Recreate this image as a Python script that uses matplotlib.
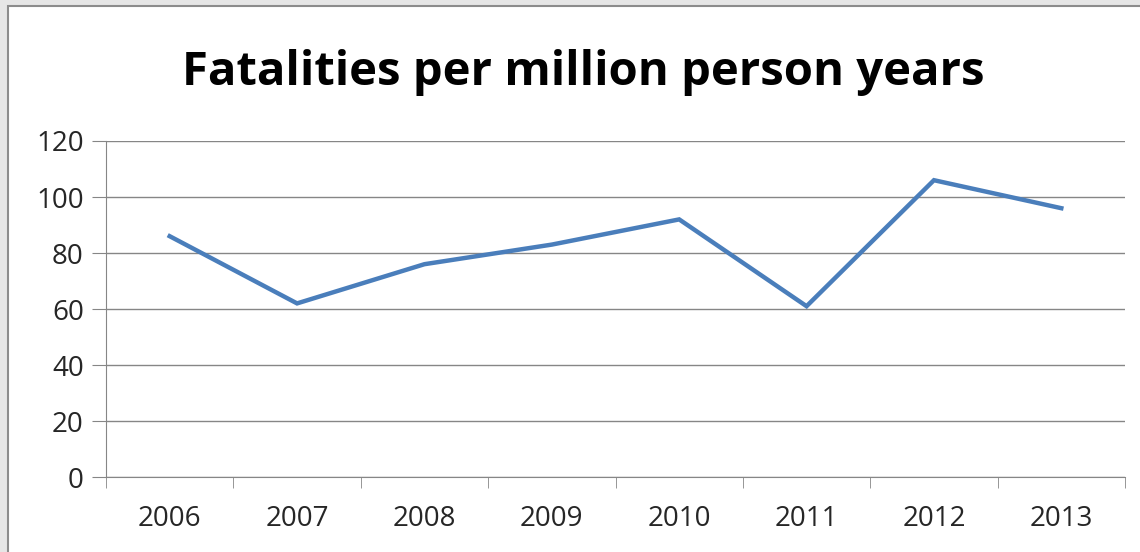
import matplotlib.pyplot as plt
import numpy as np
from matplotlib.patches import Rectangle

years = ['2006', '2007', '2008', '2009', '2010', '2011', '2012', '2013']
fatalities = [86, 62, 76, 83, 92, 61, 106, 96]
y_ticks = [0, 20, 40, 60, 80, 100, 120]

plt.rcParams['font.family'] = ['Open Sans', 'DejaVu Sans']

fig = plt.figure(figsize=(11.4, 5.52), dpi=100, facecolor='#e6e6e6')
# white chart box with a grey edge, running off the right and bottom
box = Rectangle((8 / 1140, -0.1), 1.1, 1.1 - 6 / 552,
                transform=fig.transFigure, facecolor='white',
                edgecolor='#8c8c8c', linewidth=1.5, zorder=-5)
fig.add_artist(box)

ax = fig.add_axes([106 / 1140, 75 / 552, (1125 - 106) / 1140, 336 / 552])
ax.set_facecolor('white')

x = np.arange(len(years))
ax.plot(x, fatalities, color='#4a7ebb', linewidth=3.2, solid_joinstyle='miter')

ax.set_xlim(-0.5, len(years) - 0.5)
ax.set_ylim(0, 120)
ax.set_yticks(y_ticks)
ax.set_yticklabels([str(v) for v in y_ticks])
ax.set_xticks(x)
ax.set_xticklabels(years)
ax.set_xticks(np.arange(-0.5, len(years)), minor=True)

ax.grid(axis='y', color='#868686', linewidth=1)
ax.set_axisbelow(True)
for side in ['top', 'right']:
    ax.spines[side].set_visible(False)
ax.spines['left'].set_color('#868686')
ax.spines['bottom'].set_color('#868686')

ax.tick_params(axis='x', which='major', length=0, pad=20, labelsize=20, labelcolor='#262626')
ax.tick_params(axis='x', which='minor', length=8, color='#868686', direction='out')
ax.tick_params(axis='y', length=10, color='#868686', pad=6, labelsize=20, labelcolor='#262626')

fig.text(0.512, 1 - 72 / 552, 'Fatalities per million person years',
         ha='center', va='center', fontsize=34, fontweight='bold', color='black')

fig.savefig('out.png', dpi=100, facecolor=fig.get_facecolor())
